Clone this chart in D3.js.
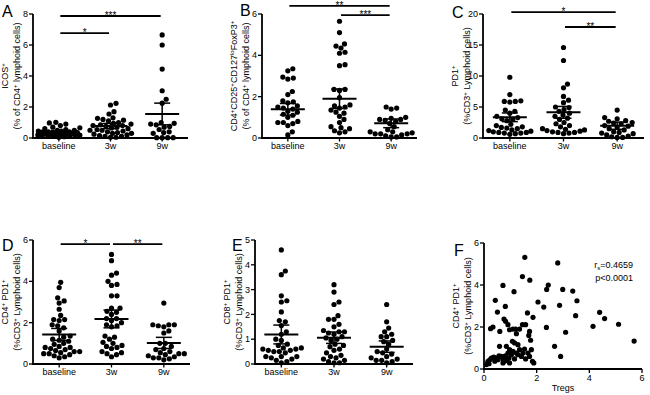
<html>
<head>
<script src="https://cdnjs.cloudflare.com/ajax/libs/d3/7.8.5/d3.min.js"></script>
<style>
  body { margin: 0; background: #fff; }
  svg { display: block; font-family: "Liberation Sans", Arial, sans-serif; }
</style>
</head>
<body>
<svg width="650" height="395"></svg>
<script>
const groups = ["baseline", "3w", "9w"];

// A: ICOS+
const icosBase = [1.01, 0.97, 0.9, 0.8, 0.7, 0.66, 0.6, 0.55, 0.5, 0.5, 0.45, 0.45, 0.4, 0.4, 0.38, 0.35, 0.35, 0.32, 0.3, 0.3, 0.28, 0.25, 0.25, 0.22, 0.2, 0.2, 0.18, 0.15, 0.15, 0.12, 0.1, 0.1, 0.08, 0.05];
const icos3w = [2.24, 2.13, 1.7, 1.55, 1.3, 1.27, 1.2, 1.15, 1.1, 1.0, 0.95, 0.9, 0.85, 0.8, 0.8, 0.75, 0.7, 0.65, 0.6, 0.55, 0.5, 0.5, 0.45, 0.4, 0.35, 0.3, 0.3, 0.25, 0.2, 0.15, 0.1, 0.1, 0.05, 0.05];
const icos9w = [6.65, 6.0, 4.45, 3.05, 2.5, 2.25, 1.0, 0.95, 0.9, 0.85, 0.75, 0.7, 0.55, 0.4, 0.35, 0.3, 0.02, 0.02, 0.02, 0.02];
const icosMean = [0.41, 0.77, 1.55];
const icosSem = [0.07, 0.17, 0.7];

// B: Tregs
const tregBase = [3.35, 3.25, 2.95, 2.9, 2.85, 2.25, 2.1, 1.8, 1.75, 1.7, 1.55, 1.5, 1.45, 1.4, 1.3, 1.25, 1.15, 1.1, 1.0, 0.8, 0.75, 0.75, 0.7, 0.6, 0.3, 0.15];
const treg3w = [5.65, 5.1, 4.55, 4.45, 4.35, 4.15, 4.1, 3.55, 3.5, 2.35, 2.35, 2.3, 1.95, 1.6, 1.55, 1.5, 1.45, 1.35, 1.25, 1.2, 1.05, 0.9, 0.75, 0.55, 0.5, 0.45, 0.35, 0.3, 0.25];
const treg9w = [1.5, 1.45, 1.4, 1.0, 0.95, 0.9, 0.9, 0.85, 0.8, 0.7, 0.55, 0.4, 0.3, 0.3, 0.25, 0.2, 0.2, 0.2, 0.15, 0.1, 0.05, 0.05];
const tregMean = [1.39, 1.9, 0.71];
const tregSem = [0.28, 0.47, 0.21];

// C: PD1+
const pd1Base = [9.8, 7.0, 6.0, 5.9, 5.9, 5.8, 4.5, 4.3, 4.0, 3.5, 3.3, 3.1, 3.0, 2.8, 2.2, 2.0, 1.8, 1.7, 1.6, 1.5, 1.3, 1.2, 1.1, 1.0, 0.9, 0.9, 0.8, 0.8, 0.7, 0.6];
const pd13w = [14.6, 12.5, 8.7, 8.1, 6.7, 6.1, 5.7, 5.0, 4.9, 4.6, 4.3, 4.0, 3.7, 3.5, 3.2, 3.0, 2.5, 2.3, 2.0, 1.8, 1.5, 1.4, 1.3, 1.2, 1.1, 1.0, 0.9, 0.9, 0.8, 0.7];
const pd19w = [4.5, 3.3, 3.1, 2.8, 2.7, 2.5, 2.4, 2.3, 2.0, 1.9, 1.7, 1.5, 1.3, 1.0, 0.9, 0.8, 0.7, 0.5, 0.3, 0.2, 0.1, 0.1];
const pd1Mean = [3.34, 4.14, 1.98];
const pd1Sem = [0.7, 0.95, 0.58];

// D: CD4+ PD1+
const cd4Base = [3.95, 3.7, 3.2, 3.05, 2.95, 2.65, 2.35, 2.15, 2.1, 2.15, 1.9, 1.85, 1.75, 1.6, 1.35, 1.3, 1.2, 1.15, 1.1, 1.0, 0.95, 0.85, 0.8, 0.8, 0.75, 0.7, 0.65, 0.6, 0.55, 0.5, 0.45, 0.4, 0.35, 0.3, 0.5, 0.6];
const cd43w = [5.3, 5.0, 4.4, 4.3, 4.0, 3.85, 3.8, 3.3, 3.3, 2.7, 2.7, 2.55, 2.5, 2.4, 2.2, 2.2, 2.1, 2.0, 1.9, 1.85, 1.8, 1.35, 1.3, 1.2, 1.05, 1.0, 0.9, 0.85, 0.8, 0.75, 0.6, 0.55, 0.5, 0.45, 0.35];
const cd49w = [2.95, 1.9, 1.9, 1.9, 1.85, 1.8, 1.6, 1.5, 1.0, 1.0, 0.85, 0.75, 0.7, 0.6, 0.55, 0.5, 0.5, 0.45, 0.4, 0.35, 0.3, 0.3, 0.25, 0.2];
const cd4Mean = [1.43, 2.18, 1.02];
const cd4Sem = [0.29, 0.43, 0.27];

// E: CD8+ PD1+
const cd8Base = [4.6, 3.75, 3.6, 2.75, 2.55, 2.5, 2.1, 1.75, 1.7, 1.55, 1.3, 1.2, 1.0, 0.95, 0.8, 0.75, 0.65, 0.65, 0.6, 0.6, 0.55, 0.55, 0.5, 0.5, 0.45, 0.3, 0.3, 0.3, 0.25, 0.2, 0.15, 0.1, 0.05];
const cd83w = [3.2, 2.9, 2.5, 2.4, 1.95, 1.8, 1.8, 1.6, 1.5, 1.35, 1.3, 1.3, 1.25, 1.2, 1.1, 1.05, 1.0, 0.95, 0.8, 0.75, 0.7, 0.6, 0.55, 0.45, 0.35, 0.3, 0.25, 0.2, 0.15, 0.1, 0.05, 0.05];
const cd89w = [2.4, 1.7, 1.45, 1.3, 1.2, 1.1, 1.1, 0.95, 0.9, 0.8, 0.6, 0.5, 0.45, 0.4, 0.3, 0.25, 0.2, 0.15, 0.15, 0.1, 0.05];
const cd8Mean = [1.19, 1.06, 0.7];
const cd8Sem = [0.38, 0.23, 0.23];

// F: Tregs vs CD4+ PD1+
const fTregs = [1.55, 2.8, 1.46, 1.74, 0.72, 2.44, 2.38, 2.99, 3.37, 1.14, 0.43, 0.81, 2.05, 2.27, 2.87, 3.53, 0.51, 1.65, 1.86, 3.48, 4.39, 4.58, 5.11, 4.14, 2.37, 3.1, 5.7, 0.25, 0.34, 0.76, 0.82, 0.91, 0.97, 0.6, 1.1, 1.23, 1.35, 1.46, 1.58, 1.73, 1.7, 2.68, 2.91, 1.77, 1.54,
  0.19, 0.22, 0.28, 0.37, 0.47, 0.53, 0.66, 0.72, 0.81, 0.85, 0.91, 0.97, 1.04, 1.1, 1.16, 1.23, 1.29, 1.35, 1.42, 1.48, 1.58, 1.67, 1.73, 1.8, 1.84, 1.89, 0.72, 0.41, 0.78, 0.59, 0.95, 1.16, 0.97, 0.09, 0.15, 0.57, 0.87, 1.29, 1.08, 1.2];
const fCd4Pd1 = [5.32, 5.05, 4.4, 4.23, 3.98, 4.0, 3.79, 3.79, 3.71, 3.68, 3.27, 2.98, 3.19, 2.95, 3.03, 3.25, 2.71, 2.67, 2.46, 2.54, 2.7, 2.4, 2.13, 2.03, 1.98, 1.75, 1.33, 1.92, 2.0, 2.38, 2.27, 2.11, 1.87, 1.79, 1.9, 1.68, 1.9, 2.11, 2.11, 1.79, 1.6, 1.08, 0.6, 1.37, 0.95,
  0.25, 0.44, 0.52, 0.57, 0.52, 0.44, 0.6, 0.48, 0.63, 1.08, 0.76, 0.92, 0.68, 0.84, 1.24, 0.76, 1.16, 0.92, 0.6, 0.76, 0.48, 0.76, 0.6, 0.92, 0.37, 0.29, 0.29, 0.37, 0.37, 1.08, 0.52, 0.48, 0.29, 0.21, 0.37, 0.63, 0.44, 0.68, 1.32, 1.9];
const fStats = ["r[s]=0.4659", "p<0.0001"];

const svg = d3.select("svg");

// {x} = superscript, [x] = subscript
function rich(sel, str, size) {
  const parts = str.split(/(\{[^}]*\}|\[[^\]]*\])/).filter(s => s.length);
  let shift = 0;
  parts.forEach(p => {
    let dy = 0, fs = size, txt = p;
    if (p[0] === "{") { txt = p.slice(1, -1); dy = -size * 0.38 - shift; shift = -size * 0.38; fs = size * 0.68; }
    else if (p[0] === "[") { txt = p.slice(1, -1); dy = size * 0.25 - shift; shift = size * 0.25; fs = size * 0.68; }
    else { dy = -shift; shift = 0; }
    sel.append("tspan").attr("dy", dy).attr("font-size", fs).text(txt);
  });
}

function drawAxisY(g, y, x0, ticks) {
  g.append("line").attr("x1", x0).attr("x2", x0).attr("y1", y.range()[0] + 1).attr("y2", y.range()[1])
    .attr("stroke", "#000").attr("stroke-width", 1.8);
  ticks.forEach(t => {
    g.append("line").attr("x1", x0 - 4).attr("x2", x0).attr("y1", y(t)).attr("y2", y(t))
      .attr("stroke", "#000").attr("stroke-width", 1.3);
    g.append("text").attr("x", x0 - 5).attr("y", y(t)).attr("dy", "0.35em")
      .attr("text-anchor", "end").attr("font-size", 9).text(t);
  });
}

function yTitle(g, lines, cx, cy) {
  lines.forEach((l, i) => {
    const t = g.append("text").attr("transform", `translate(${cx - 12 + i * 12},${cy}) rotate(-90)`)
      .attr("text-anchor", "middle").attr("dy", "0.35em").attr("font-size", 9);
    rich(t, l, 9);
  });
}

function letter(x, y, s) {
  svg.append("text").attr("x", x).attr("y", y).attr("font-size", 16).text(s);
}

// column scatter: spread points sideways, limited width, overlap when crowded
function beeswarm(vals, y, r, maxW) {
  const order = vals.map((v, i) => i).sort((a, b) => vals[a] - vals[b]);
  const placed = [];
  const off = new Array(vals.length);
  const d = 2 * r;
  const cands = [0];
  for (let k = 1; k * 0.5 <= maxW; k++) { cands.push(k * 0.5, -k * 0.5); }
  order.forEach(i => {
    const py = y(vals[i]);
    let best = null, bestD = -1;
    for (const c of cands) {
      let md = Infinity;
      placed.forEach(p => { const dd = Math.hypot(p.x - c, p.y - py); if (dd < md) md = dd; });
      if (md >= d * 1.02) { best = c; bestD = md; break; }
      if (md > bestD + 0.3) { bestD = md; best = c; }
    }
    off[i] = best;
    placed.push({ x: best, y: py });
  });
  return off;
}

const panels = [
  { L: "A", lx: 2, ly: 17, x0: 33, x1: 188, top: 14, bot: 138, max: 8, step: 2,
    data: [icosBase, icos3w, icos9w], mean: icosMean, sem: icosSem,
    title: ["ICOS{+}", "(% of CD4{+} lymphoid cells)"],
    sig: [{ a: 0, b: 2, v: 7.87, s: "***" }, { a: 0, b: 1, v: 6.77, s: "*" }] },
  { L: "B", lx: 240, ly: 16, x0: 262, x1: 417, top: 14, bot: 138, max: 6, step: 2,
    data: [tregBase, treg3w, treg9w], mean: tregMean, sem: tregSem,
    title: ["CD4{+}CD25{+}CD127{lo}FoxP3{+}", "(% of CD4{+} lymphoid cells)"],
    sig: [{ a: 0, b: 2, v: 6.39, s: "**" }, { a: 1, b: 2, v: 5.95, s: "***" }] },
  { L: "C", lx: 452, ly: 18, x0: 483, x1: 644, top: 14, bot: 138, max: 20, step: 5,
    data: [pd1Base, pd13w, pd19w], mean: pd1Mean, sem: pd1Sem,
    title: ["PD1{+}", "(%CD3{+} Lymphoid cells)"],
    sig: [{ a: 0, b: 2, v: 20.3, s: "*" }, { a: 1, b: 2, v: 17.9, s: "**" }] },
  { L: "D", lx: 2, ly: 251, x0: 33, x1: 190, top: 240, bot: 364, max: 6, step: 2,
    data: [cd4Base, cd43w, cd49w], mean: cd4Mean, sem: cd4Sem,
    title: ["CD4{+} PD1{+}", "(%CD3{+} Lymphoid cells)"],
    sig: [{ a: 0, b: 1, v: 5.8, s: "*" }, { a: 1, b: 2, v: 5.8, s: "**" }] },
  { L: "E", lx: 232, ly: 251, x0: 255, x1: 413, top: 240, bot: 364, max: 5, step: 1,
    data: [cd8Base, cd83w, cd89w], mean: cd8Mean, sem: cd8Sem,
    title: ["CD8{+} PD1{+}", "(%CD3{+} Lymphoid cells)"],
    sig: [] }
];

const R = 2.6;

panels.forEach(p => {
  const g = svg.append("g");
  const x = d3.scaleBand().domain(groups).range([p.x0, p.x1]);
  const y = d3.scaleLinear().domain([0, p.max]).range([p.bot, p.top]);
  letter(p.lx, p.ly, p.L);
  yTitle(g, p.title, p.x0 - 13, (p.top + p.bot) / 2);
  drawAxisY(g, y, p.x0, d3.range(0, p.max + 0.001, p.step));
  // x axis
  g.append("line").attr("x1", p.x0 - 1).attr("x2", p.x1).attr("y1", p.bot).attr("y2", p.bot)
    .attr("stroke", "#000").attr("stroke-width", 1.8);
  groups.forEach(c => {
    const cx = x(c) + x.bandwidth() / 2;
    g.append("line").attr("x1", cx).attr("x2", cx).attr("y1", p.bot).attr("y2", p.bot + 3.5)
      .attr("stroke", "#000").attr("stroke-width", 1.3);
    g.append("text").attr("x", cx).attr("y", p.bot + 11).attr("text-anchor", "middle")
      .attr("font-size", 9).text(c);
  });
  // dots
  p.data.forEach((vals, gi) => {
    const cx = x(groups[gi]) + x.bandwidth() / 2;
    const off = beeswarm(vals, y, R, 21);
    g.selectAll(null).data(vals).enter().append("circle")
      .attr("cx", (d, i) => cx + off[i]).attr("cy", d => y(d)).attr("r", R).attr("fill", "#000");
    // mean +- SEM
    const m = p.mean[gi], s = p.sem[gi];
    g.append("line").attr("x1", cx - 17).attr("x2", cx + 17).attr("y1", y(m)).attr("y2", y(m))
      .attr("stroke", "#000").attr("stroke-width", 2);
    [m - s, m + s].forEach(v => g.append("line").attr("x1", cx - 8).attr("x2", cx + 8)
      .attr("y1", y(v)).attr("y2", y(v)).attr("stroke", "#000").attr("stroke-width", 1.5));
    g.append("line").attr("x1", cx).attr("x2", cx).attr("y1", y(m - s)).attr("y2", y(m + s))
      .attr("stroke", "#000").attr("stroke-width", 1.5);
  });
  // significance bars
  p.sig.forEach(sg => {
    const xa = x(groups[sg.a]) + x.bandwidth() / 2 + 1.5;
    const xb = x(groups[sg.b]) + x.bandwidth() / 2 - 1.5;
    g.append("line").attr("x1", xa).attr("x2", xb).attr("y1", y(sg.v)).attr("y2", y(sg.v))
      .attr("stroke", "#000").attr("stroke-width", 1.8);
    g.append("text").attr("x", (xa + xb) / 2).attr("y", y(sg.v) + 3).attr("text-anchor", "middle")
      .attr("font-size", 10).text(sg.s);
  });
});

// F scatter
(() => {
  const g = svg.append("g");
  const x0 = 484, x1 = 642, top = 243, bot = 369;
  const x = d3.scaleLinear().domain([0, 6]).range([x0, x1]);
  const y = d3.scaleLinear().domain([0, 6]).range([bot, top]);
  letter(454, 256, "F");
  yTitle(g, ["CD4{+} PD1{+}", "(%CD3{+} Lymphoid cells)"], x0 - 13, (top + bot) / 2);
  drawAxisY(g, y, x0, [0, 2, 4, 6]);
  g.append("line").attr("x1", x0 - 1).attr("x2", x1).attr("y1", bot).attr("y2", bot)
    .attr("stroke", "#000").attr("stroke-width", 1.8);
  [0, 2, 4, 6].forEach(t => {
    g.append("line").attr("x1", x(t)).attr("x2", x(t)).attr("y1", bot).attr("y2", bot + 4)
      .attr("stroke", "#000").attr("stroke-width", 1.3);
    g.append("text").attr("x", x(t)).attr("y", bot + 12).attr("text-anchor", "middle")
      .attr("font-size", 9).text(t);
  });
  g.append("text").attr("x", (x0 + x1) / 2).attr("y", bot + 22).attr("text-anchor", "middle")
    .attr("font-size", 9).text("Tregs");
  g.selectAll(null).data(fTregs).enter().append("circle")
    .attr("cx", d => x(d)).attr("cy", (d, i) => y(fCd4Pd1[i])).attr("r", R).attr("fill", "#000");
  fStats.forEach((s, i) => {
    const t = g.append("text").attr("x", 633).attr("y", 268 + i * 13).attr("text-anchor", "end")
      .attr("font-size", 9);
    rich(t, s, 9);
  });
})();
</script>
</body>
</html>
